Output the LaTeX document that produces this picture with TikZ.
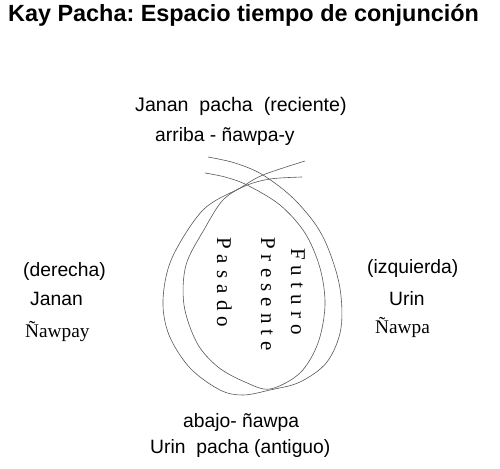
\documentclass[tikz,border=0pt]{standalone}
\usepackage{fontspec}
\setmainfont{Liberation Serif}
\setsansfont{Liberation Sans}
\frenchspacing
\newcommand\gp{\kern6.1pt}
\tikzset{
  lbl/.style={inner sep=0pt, anchor=base west, font=\sffamily\fontsize{19.3}{22}\selectfont},
  slbl/.style={inner sep=0pt, anchor=base west, font=\rmfamily\fontsize{19.3}{22}\selectfont},
  vert/.style={inner sep=0pt, anchor=base west, rotate=-90, font=\rmfamily\fontsize{21}{23}\selectfont},
  loopline/.style={draw=black!65, line width=0.6pt}
}
\begin{document}
\begin{tikzpicture}[x=1pt, y=-1pt]
\path[use as bounding box, fill=white] (0,0) rectangle (500,468);
\node[inner sep=0pt, anchor=base west, font=\sffamily\bfseries\fontsize{23.4}{28}\selectfont] (title) at (8,21.7) {Kay Pacha: Espacio tiempo de conjunción};
\node[lbl, font=\sffamily\fontsize{19.6}{22}\selectfont] (top1) at (135,112) {Janan\ \ pacha\ \ (reciente)};
\node[lbl] (top2) at (155,141.7) {arriba - ñawpa-y};
\node[lbl] (bot1) at (183,427) {abajo- ñawpa};
\node[lbl] (bot2) at (150,453) {Urin\ \ pacha (antiguo)};
\node[lbl] (l1) at (23,276) {(derecha)};
\node[lbl] (l2) at (30,305) {Janan};
\node[slbl] (l3) at (25,337) {Ñawpay};
\node[lbl] (r1) at (367,273) {(izquierda)};
\node[lbl] (r2) at (389,305) {Urin};
\node[slbl] (r3) at (375,333) {Ñawpa};
\node[vert] (pas) at (217,237) {P\gp a\gp s\gp a\gp d\gp o};
\node[vert] (pre) at (261,237) {P\gp r\gp e\gp s\gp e\gp n\gp t\gp e};
\node[vert] (fut) at (291,248) {F\gp u\gp t\gp u\gp r\gp o};
\draw[loopline] plot[smooth, tension=0.55] coordinates {
 (208,157) (235,163) (263,175) (295,200) (322,235) (339,283) (341,328) (327,362)
 (300,382) (270,390) (243,395) (220,390) (190,368) (169,335) (163,300) (172,258)
 (203,210) (240,188) (263,175) (305,161)};
\draw[loopline] plot[smooth, tension=0.55] coordinates {
 (205,173) (225,177) (247,185) (280,205) (305,233) (320,268) (325,305) (318,343)
 (300,373) (270,389) (245,382) (218,367) (197,343) (184,305) (186,265)
 (205,228) (223,200) (245,186) (270,179) (302,177)};
\end{tikzpicture}
\end{document}
